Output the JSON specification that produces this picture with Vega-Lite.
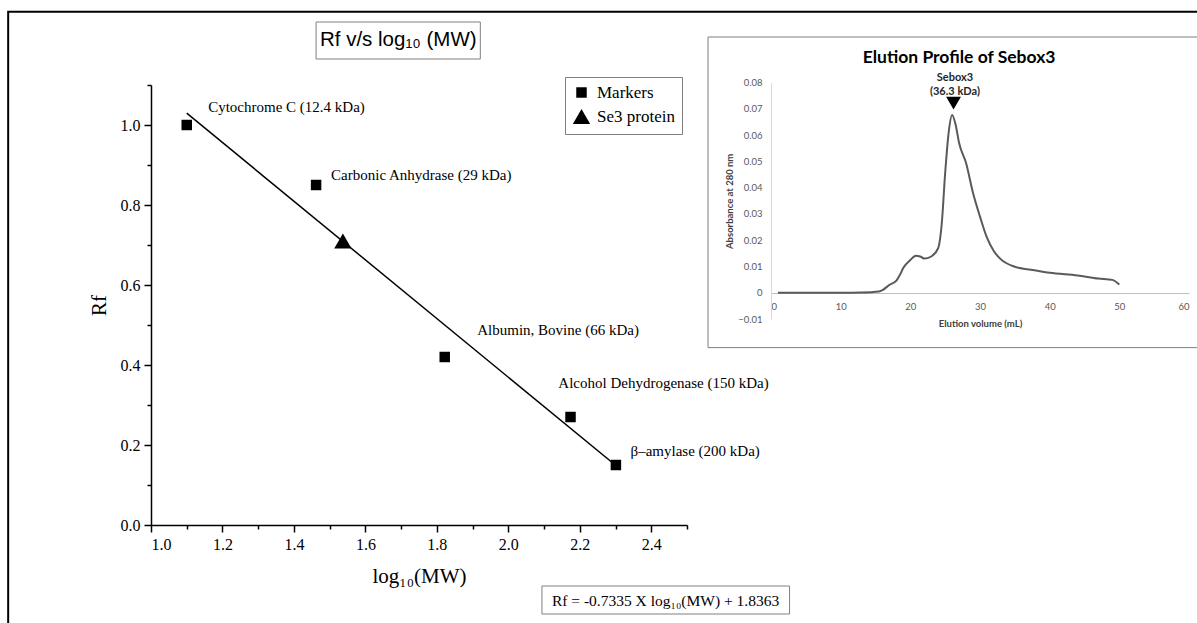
{
  "$schema": "https://vega.github.io/schema/vega-lite/v6.json",
  "width": 536,
  "height": 440,
  "autosize": {"type": "none"},
  "padding": {"left": 151, "top": 85, "right": 510, "bottom": 98},
  "background": "white",
  "config": {"view": {"stroke": null}, "axis": {"grid": false}},
  "datasets": {
    "fit": [{"x": 1.1, "y": 1.0295}, {"x": 2.3, "y": 0.1493}],
    "pts": [
      {"name": "Cytochrome C (12.4 kDa)", "type": "Markers", "x": 1.1, "y": 1.0, "lx": 1.16, "ly": 1.045},
      {"name": "Carbonic Anhydrase (29 kDa)", "type": "Markers", "x": 1.462, "y": 0.85, "lx": 1.504, "ly": 0.875},
      {"name": "Albumin, Bovine (66 kDa)", "type": "Markers", "x": 1.822, "y": 0.42, "lx": 1.913, "ly": 0.488},
      {"name": "Alcohol Dehydrogenase (150 kDa)", "type": "Markers", "x": 2.174, "y": 0.27, "lx": 2.14, "ly": 0.355},
      {"name": "β–amylase (200 kDa)", "type": "Markers", "x": 2.301, "y": 0.15, "lx": 2.342, "ly": 0.185},
      {"name": "Se3 protein", "type": "Se3 protein", "x": 1.537, "y": 0.71}
    ],
    "titlebox": [{"label": "Rf v/s log₁₀ (MW)", "x1": 1.462, "x2": 1.9216, "y1": 1.165, "y2": 1.2575, "x": 1.692, "y": 1.2125}],
    "eqbox": [{"label": "Rf = -0.7335 X log₁₀(MW) + 1.8363", "x1": 2.094, "x2": 2.787, "y1": -0.2225, "y2": -0.1525, "x": 2.44, "y": -0.189}],
    "frame": [{"x1": 0.6003, "x2": 5.0, "y1": -0.3, "y2": 1.283}],
    "curve": [
      {"v": 1, "a": 0}, {"v": 5, "a": 0}, {"v": 10, "a": 0}, {"v": 13, "a": 0.0001},
      {"v": 15.5, "a": 0.0005}, {"v": 16, "a": 0.001}, {"v": 17, "a": 0.003}, {"v": 18, "a": 0.0046},
      {"v": 18.5, "a": 0.0068}, {"v": 19, "a": 0.0095}, {"v": 20, "a": 0.0125}, {"v": 20.8, "a": 0.0141},
      {"v": 21.5, "a": 0.0137}, {"v": 22, "a": 0.013}, {"v": 23, "a": 0.0138}, {"v": 24, "a": 0.017},
      {"v": 24.5, "a": 0.026}, {"v": 25, "a": 0.0456}, {"v": 25.5, "a": 0.061}, {"v": 26, "a": 0.0677},
      {"v": 26.5, "a": 0.064}, {"v": 27, "a": 0.057}, {"v": 28, "a": 0.0494}, {"v": 29, "a": 0.038},
      {"v": 30, "a": 0.029}, {"v": 31, "a": 0.021}, {"v": 32, "a": 0.0158}, {"v": 33, "a": 0.0127},
      {"v": 35, "a": 0.0099}, {"v": 38, "a": 0.0085}, {"v": 40, "a": 0.0076}, {"v": 44, "a": 0.0066},
      {"v": 47, "a": 0.0054}, {"v": 49, "a": 0.0049}, {"v": 50, "a": 0.0031}
    ],
    "peak": [{"v": 26.2, "a": 0.0722}],
    "peaklabel": [{"label": "Sebox3", "v": 26.4, "a": 0.0818}, {"label": "(36.3 kDa)", "v": 26.4, "a": 0.0766}],
    "insettitle": [{"label": "Elution Profile of Sebox3", "v": 27, "a": 0.0894}],
    "insetframe": [{"v1": -9.04, "v2": 62, "a1": -0.0209, "a2": 0.0974}]
  },
  "layer": [
    {
      "data": {"name": "fit"},
      "mark": {"type": "line", "color": "black", "strokeWidth": 1.5},
      "encoding": {
        "x": {"field": "x", "type": "quantitative", "title": "log₁₀(MW)",
          "scale": {"domain": [1, 2.5], "nice": false, "zero": false},
          "axis": {"orient": "bottom", "values": [1, 1.2, 1.4, 1.6, 1.8, 2.0, 2.2, 2.4], "format": ".1f",
            "labelFont": "Liberation Serif", "labelFontSize": 16, "labelColor": "black",
            "tickColor": "black", "domainColor": "black", "tickSize": 7, "tickWidth": 1.5, "domainWidth": 1.5,
            "labelPadding": 4, "titleFont": "Liberation Serif", "titleFontSize": 21, "titleFontWeight": "normal",
            "titleColor": "black", "titlePadding": 13}},
        "y": {"field": "y", "type": "quantitative", "title": "Rf",
          "scale": {"domain": [0, 1.1], "nice": false, "zero": false},
          "axis": {"orient": "left", "values": [0, 0.2, 0.4, 0.6, 0.8, 1.0], "format": ".1f",
            "labelFont": "Liberation Serif", "labelFontSize": 16, "labelColor": "black",
            "tickColor": "black", "domainColor": "black", "tickSize": 7, "tickWidth": 1.5, "domainWidth": 1.5,
            "labelPadding": 4, "titleFont": "Liberation Serif", "titleFontSize": 21, "titleFontWeight": "normal",
            "titleColor": "black", "titlePadding": 11}}
      }
    },
    {
      "data": {"name": "fit"},
      "mark": {"type": "point", "opacity": 0},
      "encoding": {
        "x": {"field": "x", "type": "quantitative", "scale": {"domain": [1, 2.5], "nice": false, "zero": false},
          "axis": {"orient": "bottom", "values": [1.1, 1.3, 1.5, 1.7, 1.9, 2.1, 2.3, 2.5], "labels": false, "domain": false,
            "tickSize": 4, "tickWidth": 1.5, "tickColor": "black", "title": null}},
        "y": {"field": "y", "type": "quantitative", "scale": {"domain": [0, 1.1], "nice": false, "zero": false},
          "axis": {"orient": "left", "values": [0.1, 0.3, 0.5, 0.7, 0.9, 1.1], "labels": false, "domain": false,
            "tickSize": 4, "tickWidth": 1.5, "tickColor": "black", "title": null}}
      }
    },
    {
      "data": {"name": "pts"},
      "mark": {"type": "point", "filled": true, "color": "black", "opacity": 1, "strokeWidth": 0},
      "encoding": {
        "x": {"field": "x", "type": "quantitative", "scale": {"domain": [1, 2.5], "nice": false, "zero": false}, "axis": null},
        "y": {"field": "y", "type": "quantitative", "scale": {"domain": [0, 1.1], "nice": false, "zero": false}, "axis": null},
        "shape": {"field": "type", "type": "nominal",
          "scale": {"domain": ["Markers", "Se3 protein"], "range": ["square", "triangle-up"]},
          "legend": {"title": null, "orient": "none", "legendX": 414, "legendY": -8, "strokeColor": "#808080",
            "padding": 7, "labelFont": "Liberation Serif", "labelFontSize": 17, "labelColor": "black",
            "symbolFillColor": "black", "symbolStrokeColor": "black", "rowPadding": 5, "labelOffset": 6}},
        "size": {"field": "type", "type": "nominal",
          "scale": {"domain": ["Markers", "Se3 protein"], "range": [110, 300]},
          "legend": {"title": null, "orient": "none", "legendX": 414, "legendY": -8, "strokeColor": "#808080",
            "padding": 7, "labelFont": "Liberation Serif", "labelFontSize": 17, "labelColor": "black",
            "symbolFillColor": "black", "symbolStrokeColor": "black", "rowPadding": 5, "labelOffset": 6}}
      }
    },
    {
      "data": {"name": "pts"},
      "transform": [{"filter": "datum.lx != null"}],
      "mark": {"type": "text", "align": "left", "baseline": "middle", "font": "Liberation Serif", "fontSize": 15, "color": "black"},
      "encoding": {
        "x": {"field": "lx", "type": "quantitative", "scale": {"domain": [1, 2.5], "nice": false, "zero": false}, "axis": null},
        "y": {"field": "ly", "type": "quantitative", "scale": {"domain": [0, 1.1], "nice": false, "zero": false}, "axis": null},
        "text": {"field": "name"}
      }
    },
    {
      "data": {"name": "titlebox"},
      "mark": {"type": "rect", "fillOpacity": 0, "stroke": "#808080", "strokeWidth": 1},
      "encoding": {
        "x": {"field": "x1", "type": "quantitative", "scale": {"domain": [1, 2.5], "nice": false, "zero": false}, "axis": null},
        "x2": {"field": "x2"},
        "y": {"field": "y1", "type": "quantitative", "scale": {"domain": [0, 1.1], "nice": false, "zero": false}, "axis": null},
        "y2": {"field": "y2"}
      }
    },
    {
      "data": {"name": "titlebox"},
      "mark": {"type": "text", "align": "center", "baseline": "middle", "font": "Liberation Sans", "fontSize": 20.5, "color": "black"},
      "encoding": {
        "x": {"field": "x", "type": "quantitative", "scale": {"domain": [1, 2.5], "nice": false, "zero": false}, "axis": null},
        "y": {"field": "y", "type": "quantitative", "scale": {"domain": [0, 1.1], "nice": false, "zero": false}, "axis": null},
        "text": {"field": "label"}
      }
    },
    {
      "data": {"name": "eqbox"},
      "mark": {"type": "rect", "fillOpacity": 0, "stroke": "#808080", "strokeWidth": 1},
      "encoding": {
        "x": {"field": "x1", "type": "quantitative", "scale": {"domain": [1, 2.5], "nice": false, "zero": false}, "axis": null},
        "x2": {"field": "x2"},
        "y": {"field": "y1", "type": "quantitative", "scale": {"domain": [0, 1.1], "nice": false, "zero": false}, "axis": null},
        "y2": {"field": "y2"}
      }
    },
    {
      "data": {"name": "eqbox"},
      "mark": {"type": "text", "align": "center", "baseline": "middle", "font": "Liberation Serif", "fontSize": 15.5, "color": "black"},
      "encoding": {
        "x": {"field": "x", "type": "quantitative", "scale": {"domain": [1, 2.5], "nice": false, "zero": false}, "axis": null},
        "y": {"field": "y", "type": "quantitative", "scale": {"domain": [0, 1.1], "nice": false, "zero": false}, "axis": null},
        "text": {"field": "label"}
      }
    },
    {
      "data": {"name": "frame"},
      "mark": {"type": "rect", "fillOpacity": 0, "stroke": "black", "strokeWidth": 2},
      "encoding": {
        "x": {"field": "x1", "type": "quantitative", "scale": {"domain": [1, 2.5], "nice": false, "zero": false}, "axis": null},
        "x2": {"field": "x2"},
        "y": {"field": "y1", "type": "quantitative", "scale": {"domain": [0, 1.1], "nice": false, "zero": false}, "axis": null},
        "y2": {"field": "y2"}
      }
    },
    {
      "data": {"name": "curve"},
      "mark": {"type": "line", "color": "#5a5a5a", "strokeWidth": 2, "interpolate": "monotone"},
      "encoding": {
        "x": {"field": "v", "type": "quantitative", "title": "Elution volume (mL)",
          "scale": {"domain": [0, 60], "range": [620, 1038], "nice": false, "zero": false},
          "axis": {"orient": "bottom", "offset": -232, "values": [0, 10, 20, 30, 40, 50, 60], "tickSize": 0,
            "domainColor": "#bfbfbf", "domainWidth": 1, "labelColor": "#595959", "labelFont": "Lato", "labelFontSize": 9.5,
            "labelPadding": 8, "titleFont": "Lato", "titleFontSize": 9.5, "titleFontWeight": "bold", "titleColor": "#404040", "titlePadding": 8}},
        "y": {"field": "a", "type": "quantitative", "title": "Absorbance at 280 nm",
          "scale": {"domain": [-0.01, 0.08], "range": [234, -2.3], "nice": false, "zero": false},
          "axis": {"orient": "left", "offset": -620, "values": [-0.01, 0, 0.01, 0.02, 0.03, 0.04, 0.05, 0.06, 0.07, 0.08],
            "labelExpr": "datum.value == 0 ? '0' : format(datum.value, '.2f')", "tickSize": 0,
            "domainColor": "#d9d9d9", "domainWidth": 1, "labelColor": "#595959", "labelFont": "Lato", "labelFontSize": 9.5,
            "labelPadding": 9, "titleFont": "Lato", "titleFontSize": 9.5, "titleFontWeight": "bold", "titleColor": "#404040", "titlePadding": 3}}
      }
    },
    {
      "data": {"name": "peak"},
      "mark": {"type": "point", "shape": "triangle-down", "filled": true, "color": "black", "size": 220, "opacity": 1},
      "encoding": {
        "x": {"field": "v", "type": "quantitative", "scale": {"domain": [0, 60], "range": [620, 1038], "nice": false, "zero": false}, "axis": null},
        "y": {"field": "a", "type": "quantitative", "scale": {"domain": [-0.01, 0.08], "range": [234, -2.3], "nice": false, "zero": false}, "axis": null}
      }
    },
    {
      "data": {"name": "peaklabel"},
      "mark": {"type": "text", "align": "center", "baseline": "middle", "font": "Lato", "fontWeight": "bold", "fontSize": 11, "color": "#262626"},
      "encoding": {
        "x": {"field": "v", "type": "quantitative", "scale": {"domain": [0, 60], "range": [620, 1038], "nice": false, "zero": false}, "axis": null},
        "y": {"field": "a", "type": "quantitative", "scale": {"domain": [-0.01, 0.08], "range": [234, -2.3], "nice": false, "zero": false}, "axis": null},
        "text": {"field": "label"}
      }
    },
    {
      "data": {"name": "insettitle"},
      "mark": {"type": "text", "align": "center", "baseline": "middle", "font": "Lato", "fontWeight": "bold", "fontSize": 17.5, "color": "black"},
      "encoding": {
        "x": {"field": "v", "type": "quantitative", "scale": {"domain": [0, 60], "range": [620, 1038], "nice": false, "zero": false}, "axis": null},
        "y": {"field": "a", "type": "quantitative", "scale": {"domain": [-0.01, 0.08], "range": [234, -2.3], "nice": false, "zero": false}, "axis": null},
        "text": {"field": "label"}
      }
    },
    {
      "data": {"name": "insetframe"},
      "mark": {"type": "rect", "fillOpacity": 0, "stroke": "#7f7f7f", "strokeWidth": 1},
      "encoding": {
        "x": {"field": "v1", "type": "quantitative", "scale": {"domain": [0, 60], "range": [620, 1038], "nice": false, "zero": false}, "axis": null},
        "x2": {"field": "v2"},
        "y": {"field": "a1", "type": "quantitative", "scale": {"domain": [-0.01, 0.08], "range": [234, -2.3], "nice": false, "zero": false}, "axis": null},
        "y2": {"field": "a2"}
      }
    }
  ],
  "resolve": {
    "scale": {"x": "independent", "y": "independent"},
    "axis": {"x": "independent", "y": "independent"}
  }
}
